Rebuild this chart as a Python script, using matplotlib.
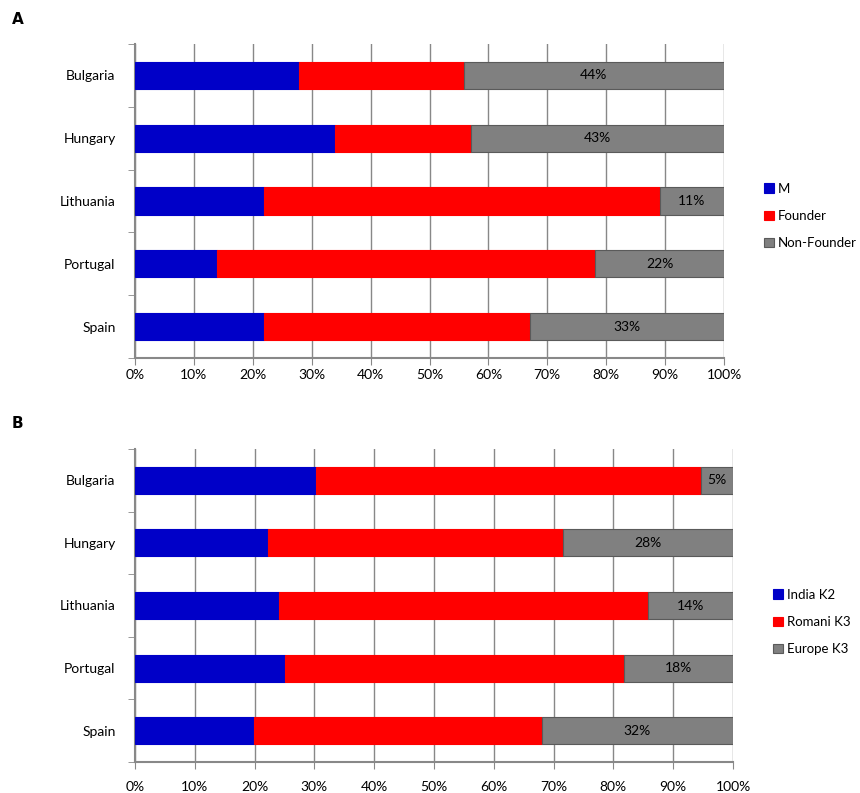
import matplotlib
matplotlib.use("Agg")
import matplotlib.pyplot as plt
import numpy as np

plt.rcParams['font.family'] = ['Lato', 'DejaVu Sans']

countries = ['Bulgaria', 'Hungary', 'Lithuania', 'Portugal', 'Spain']

# panel A
a_names = ['M', 'Founder', 'Non-Founder']
a_m = [27.8, 33.9, 21.9, 13.9, 21.9]
a_founder = [28.0, 23.2, 67.2, 64.2, 45.1]
a_nonfounder = [44.2, 42.9, 10.9, 21.9, 33.0]

# panel B
b_names = ['India K2', 'Romani K3', 'Europe K3']
b_india = [30.2, 22.3, 24.0, 25.1, 19.9]
b_romani = [64.4, 49.3, 61.8, 56.6, 48.1]
b_europe = [5.4, 28.4, 14.2, 18.3, 32.0]

colors = ['#0000c8', '#ff0000', '#808080']
axis_grey = '#888888'
W, H = 860.0, 793.0


def draw_panel(fig, ax, series, names, legend_xy, xpad):
    y = np.arange(len(countries))
    left = np.zeros(len(countries))
    for vals, name, col in zip(series, names, colors):
        vals = np.array(vals) / 100.0
        edge = '#5a5a5a' if col == '#808080' else col
        ax.barh(y, vals, left=left, height=0.43, color=col, edgecolor=edge,
                linewidth=0.8, label=name, zorder=3)
        left = left + vals
    # labels on last series
    last = np.array(series[-1]) / 100.0
    for yi, v, l in zip(y, last, left):
        ax.text(l - v / 2, yi, '%d%%' % round(v * 100), ha='center',
                va='center', fontsize=10, color='black', zorder=4)
    ax.set_xlim(0, 1)
    ax.set_ylim(len(countries) - 0.5, -0.5)
    ax.set_xticks(np.arange(0, 1.01, 0.1))
    ax.set_xticklabels(['%d%%' % p for p in range(0, 101, 10)], fontsize=10)
    ax.set_yticks(y)
    ax.set_yticklabels(countries, fontsize=10)
    ax.set_yticks(np.arange(-0.5, len(countries), 1), minor=True)
    ax.tick_params(axis='y', which='major', length=0, pad=14)
    ax.tick_params(axis='y', which='minor', length=5, color=axis_grey,
                   direction='out')
    ax.tick_params(axis='x', length=5, color=axis_grey, direction='out',
                   pad=xpad)
    ax.grid(axis='x', color=axis_grey, linewidth=1, zorder=0)
    for s in ['top', 'right']:
        ax.spines[s].set_visible(False)
    for s in ['left', 'bottom']:
        ax.spines[s].set_color(axis_grey)
        ax.spines[s].set_linewidth(1.5)
    handles, labels = ax.get_legend_handles_labels()
    fig.legend(handles, labels, loc='center left',
               bbox_to_anchor=(legend_xy[0] / W, 1 - legend_xy[1] / H),
               frameon=False, fontsize=9.5, handlelength=0.75,
               handleheight=0.75, handletextpad=0.3, labelspacing=1.15,
               borderpad=0, borderaxespad=0)


fig = plt.figure(figsize=(8.6, 7.93), dpi=100)
ax1 = fig.add_axes([135 / W, 1 - 358 / H, (724 - 135) / W, (358 - 44) / H])
ax2 = fig.add_axes([135 / W, 1 - 762 / H, (733 - 135) / W, (762 - 449) / H])

draw_panel(fig, ax1, [a_m, a_founder, a_nonfounder], a_names, (764, 216), 3)
draw_panel(fig, ax2, [b_india, b_romani, b_europe], b_names, (773, 622), 9)

fig.text(12 / W, 1 - 20 / H, 'A', fontsize=11, fontweight='bold',
         va='center', family='DejaVu Sans')
fig.text(12 / W, 1 - 423 / H, 'B', fontsize=11, fontweight='bold',
         va='center', family='DejaVu Sans')

fig.savefig('out.png', dpi=100)
